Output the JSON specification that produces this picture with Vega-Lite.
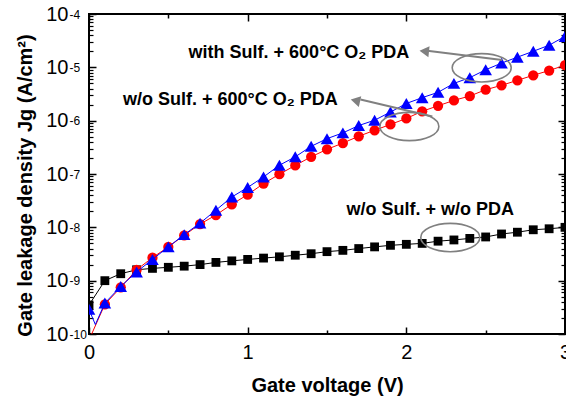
{
  "$schema": "https://vega.github.io/schema/vega-lite/v6.json",
  "width": 476,
  "height": 320,
  "autosize": {"type": "none"},
  "padding": {"left": 89, "top": 14, "right": 1, "bottom": 64},
  "config": {
    "view": {"stroke": "black", "strokeWidth": 2},
    "font": "Liberation Sans",
    "axis": {"grid": false, "labelColor": "black", "tickColor": "black", "titleColor": "black"}
  },
  "resolve": {"axis": {"x": "independent", "y": "independent"}},
  "datasets": {
    "curves": [
      {"s": "k", "v": 0, "j": 3.5e-10, "m": 1},
      {"s": "k", "v": 0.1, "j": 1.0e-9, "m": 1},
      {"s": "k", "v": 0.2, "j": 1.35e-9, "m": 1},
      {"s": "k", "v": 0.3, "j": 1.6e-9, "m": 1},
      {"s": "k", "v": 0.4, "j": 1.7e-9, "m": 1},
      {"s": "k", "v": 0.5, "j": 1.78e-9, "m": 1},
      {"s": "k", "v": 0.6, "j": 1.87e-9, "m": 1},
      {"s": "k", "v": 0.7, "j": 2.0e-9, "m": 1},
      {"s": "k", "v": 0.8, "j": 2.2e-9, "m": 1},
      {"s": "k", "v": 0.9, "j": 2.35e-9, "m": 1},
      {"s": "k", "v": 1.0, "j": 2.5e-9, "m": 1},
      {"s": "k", "v": 1.1, "j": 2.65e-9, "m": 1},
      {"s": "k", "v": 1.2, "j": 2.8e-9, "m": 1},
      {"s": "k", "v": 1.3, "j": 3.0e-9, "m": 1},
      {"s": "k", "v": 1.4, "j": 3.2e-9, "m": 1},
      {"s": "k", "v": 1.5, "j": 3.5e-9, "m": 1},
      {"s": "k", "v": 1.6, "j": 3.7e-9, "m": 1},
      {"s": "k", "v": 1.7, "j": 4.0e-9, "m": 1},
      {"s": "k", "v": 1.8, "j": 4.3e-9, "m": 1},
      {"s": "k", "v": 1.9, "j": 4.6e-9, "m": 1},
      {"s": "k", "v": 2.0, "j": 4.8e-9, "m": 1},
      {"s": "k", "v": 2.1, "j": 5.0e-9, "m": 1},
      {"s": "k", "v": 2.2, "j": 5.5e-9, "m": 1},
      {"s": "k", "v": 2.3, "j": 5.8e-9, "m": 1},
      {"s": "k", "v": 2.4, "j": 6.2e-9, "m": 1},
      {"s": "k", "v": 2.5, "j": 6.6e-9, "m": 1},
      {"s": "k", "v": 2.6, "j": 7.5e-9, "m": 1},
      {"s": "k", "v": 2.7, "j": 8.1e-9, "m": 1},
      {"s": "k", "v": 2.8, "j": 9.0e-9, "m": 1},
      {"s": "k", "v": 2.9, "j": 9.4e-9, "m": 1},
      {"s": "k", "v": 3.0, "j": 1.0e-8, "m": 1},
      {"s": "r", "v": 0, "j": 7.7e-11, "m": 0},
      {"s": "r", "v": 0.1, "j": 3.6e-10, "m": 1},
      {"s": "r", "v": 0.2, "j": 7.5e-10, "m": 1},
      {"s": "r", "v": 0.3, "j": 1.6e-9, "m": 1},
      {"s": "r", "v": 0.4, "j": 2.7e-9, "m": 1},
      {"s": "r", "v": 0.5, "j": 4.3e-9, "m": 1},
      {"s": "r", "v": 0.6, "j": 7.1e-9, "m": 1},
      {"s": "r", "v": 0.7, "j": 1.15e-8, "m": 1},
      {"s": "r", "v": 0.8, "j": 1.7e-8, "m": 1},
      {"s": "r", "v": 0.9, "j": 2.7e-8, "m": 1},
      {"s": "r", "v": 1.0, "j": 4.1e-8, "m": 1},
      {"s": "r", "v": 1.1, "j": 6.6e-8, "m": 1},
      {"s": "r", "v": 1.2, "j": 9.9e-8, "m": 1},
      {"s": "r", "v": 1.3, "j": 1.45e-7, "m": 1},
      {"s": "r", "v": 1.4, "j": 2.1e-7, "m": 1},
      {"s": "r", "v": 1.5, "j": 2.9e-7, "m": 1},
      {"s": "r", "v": 1.6, "j": 3.8e-7, "m": 1},
      {"s": "r", "v": 1.7, "j": 5.1e-7, "m": 1},
      {"s": "r", "v": 1.8, "j": 6.6e-7, "m": 1},
      {"s": "r", "v": 1.9, "j": 8.5e-7, "m": 1},
      {"s": "r", "v": 2.0, "j": 1.1e-6, "m": 1},
      {"s": "r", "v": 2.1, "j": 1.5e-6, "m": 1},
      {"s": "r", "v": 2.2, "j": 1.9e-6, "m": 1},
      {"s": "r", "v": 2.3, "j": 2.4e-6, "m": 1},
      {"s": "r", "v": 2.4, "j": 2.9e-6, "m": 1},
      {"s": "r", "v": 2.5, "j": 3.8e-6, "m": 1},
      {"s": "r", "v": 2.6, "j": 4.6e-6, "m": 1},
      {"s": "r", "v": 2.7, "j": 5.7e-6, "m": 1},
      {"s": "r", "v": 2.8, "j": 7.1e-6, "m": 1},
      {"s": "r", "v": 2.9, "j": 8.7e-6, "m": 1},
      {"s": "r", "v": 3.0, "j": 1.1e-5, "m": 1},
      {"s": "b", "v": 0, "j": 2.9e-10, "m": 1},
      {"s": "b", "v": 0.04, "j": 1.5e-10, "m": 0},
      {"s": "b", "v": 0.1, "j": 3.8e-10, "m": 1},
      {"s": "b", "v": 0.2, "j": 7.8e-10, "m": 1},
      {"s": "b", "v": 0.3, "j": 1.46e-9, "m": 1},
      {"s": "b", "v": 0.4, "j": 2.5e-9, "m": 1},
      {"s": "b", "v": 0.5, "j": 4.3e-9, "m": 1},
      {"s": "b", "v": 0.6, "j": 7.3e-9, "m": 1},
      {"s": "b", "v": 0.7, "j": 1.2e-8, "m": 1},
      {"s": "b", "v": 0.8, "j": 2.1e-8, "m": 1},
      {"s": "b", "v": 0.9, "j": 3.7e-8, "m": 1},
      {"s": "b", "v": 1.0, "j": 5.6e-8, "m": 1},
      {"s": "b", "v": 1.1, "j": 8.8e-8, "m": 1},
      {"s": "b", "v": 1.2, "j": 1.46e-7, "m": 1},
      {"s": "b", "v": 1.3, "j": 2.1e-7, "m": 1},
      {"s": "b", "v": 1.4, "j": 3.3e-7, "m": 1},
      {"s": "b", "v": 1.5, "j": 4.6e-7, "m": 1},
      {"s": "b", "v": 1.6, "j": 5.9e-7, "m": 1},
      {"s": "b", "v": 1.7, "j": 8.1e-7, "m": 1},
      {"s": "b", "v": 1.8, "j": 1.02e-6, "m": 1},
      {"s": "b", "v": 1.9, "j": 1.45e-6, "m": 1},
      {"s": "b", "v": 2.0, "j": 2.1e-6, "m": 1},
      {"s": "b", "v": 2.1, "j": 2.7e-6, "m": 1},
      {"s": "b", "v": 2.2, "j": 3.4e-6, "m": 1},
      {"s": "b", "v": 2.3, "j": 5.0e-6, "m": 1},
      {"s": "b", "v": 2.4, "j": 6.4e-6, "m": 1},
      {"s": "b", "v": 2.5, "j": 9.0e-6, "m": 1},
      {"s": "b", "v": 2.6, "j": 1.2e-5, "m": 1},
      {"s": "b", "v": 2.7, "j": 1.55e-5, "m": 1},
      {"s": "b", "v": 2.8, "j": 2.0e-5, "m": 1},
      {"s": "b", "v": 2.9, "j": 2.6e-5, "m": 1},
      {"s": "b", "v": 3.0, "j": 3.8e-5, "m": 1}
    ],
    "ellipses": [
      {"v": 2.475, "j": 9.8e-6},
      {"v": 2.019, "j": 7.77e-7},
      {"v": 2.277, "j": 6.44e-9}
    ],
    "arrows": [
      {"v": 2.132, "j": 2.04e-5, "v2": 2.604, "j2": 1.372e-5},
      {"v": 1.711, "j": 2.49e-6, "v2": 2.164, "j2": 1.197e-6}
    ],
    "labels": [
      {"v": 2.019, "j": 1.475e-5, "t": "with Sulf. + 600°C O₂ PDA"},
      {"v": 1.568, "j": 1.97e-6, "t": "w/o Sulf. + 600°C O₂ PDA"},
      {"v": 2.679, "j": 1.7e-8, "t": "w/o Sulf. + w/o PDA"}
    ]
  },
  "layer": [
    {
      "data": {"name": "curves"},
      "transform": [{"filter": "datum.s === 'k'"}],
      "mark": {"type": "line", "color": "black", "strokeWidth": 1, "clip": true},
      "encoding": {
        "x": {"field": "v", "type": "quantitative", "scale": {"domain": [0, 3], "nice": false, "zero": false},
          "axis": {"orient": "bottom", "values": [0, 1, 2, 3], "format": "d", "ticks": false, "domain": false, "labelFontSize": 20, "labelPadding": 8, "labelFlush": false, "labelOverlap": false,
            "title": "Gate voltage (V)", "titleFontSize": 20, "titleFontWeight": "bold", "titleBaseline": "middle", "titleY": 51}},
        "y": {"field": "j", "type": "quantitative", "scale": {"type": "log", "domain": [1e-10, 1e-4], "nice": false},
          "axis": {"orient": "left", "values": [1e-10, 1e-9, 1e-8, 1e-7, 1e-6, 1e-5, 1e-4], "labelExpr": "'10'", "ticks": false, "domain": false, "labelFontSize": 20, "labelPadding": 21, "labelBaseline": "middle", "labelFlush": false, "labelOverlap": false,
            "title": "Gate leakage density Jg (A/cm²)", "titleFontSize": 20, "titleFontWeight": "bold", "titleX": -64, "titleY": 171, "titleBaseline": "middle", "titleAlign": "center"}}
      }
    },
    {
      "data": {"name": "curves"},
      "transform": [{"filter": "datum.s === 'k' && datum.m === 1"}],
      "mark": {"type": "point", "shape": "square", "filled": true, "color": "black", "opacity": 1, "size": 78, "clip": true},
      "encoding": {
        "x": {"field": "v", "type": "quantitative", "scale": {"domain": [0, 3], "nice": false, "zero": false},
          "axis": {"orient": "bottom", "values": [0, 1, 2, 3], "labels": false, "domain": false, "ticks": true, "tickSize": -7, "tickWidth": 1.5, "title": null}},
        "y": {"field": "j", "type": "quantitative", "scale": {"type": "log", "domain": [1e-10, 1e-4], "nice": false},
          "axis": {"orient": "left", "values": [1e-10, 1e-9, 1e-8, 1e-7, 1e-6, 1e-5, 1e-4], "labelExpr": "'' + round(log(datum.value) / LN10)", "ticks": false, "domain": false, "labelFontSize": 12, "labelAlign": "left", "labelPadding": 20, "labelBaseline": "middle", "labelDy": -9, "labelFlush": false, "labelOverlap": false, "title": null}}
      }
    },
    {
      "data": {"name": "curves"},
      "transform": [{"filter": "datum.s === 'r'"}],
      "mark": {"type": "line", "color": "#ff0000", "strokeWidth": 1, "clip": true},
      "encoding": {
        "x": {"field": "v", "type": "quantitative", "scale": {"domain": [0, 3], "nice": false, "zero": false},
          "axis": {"orient": "bottom", "values": [0.5, 1.5, 2.5], "labels": false, "domain": false, "ticks": true, "tickSize": -4, "tickWidth": 1.5, "title": null}},
        "y": {"field": "j", "type": "quantitative", "scale": {"type": "log", "domain": [1e-10, 1e-4], "nice": false},
          "axis": {"orient": "left", "values": [1e-10, 1e-9, 1e-8, 1e-7, 1e-6, 1e-5, 1e-4], "labels": false, "domain": false, "ticks": true, "tickSize": -7, "tickWidth": 1.5, "title": null}}
      }
    },
    {
      "data": {"name": "curves"},
      "transform": [{"filter": "datum.s === 'r' && datum.m === 1"}],
      "mark": {"type": "point", "shape": "circle", "filled": true, "color": "#ff0000", "opacity": 1, "size": 105, "clip": true},
      "encoding": {
        "x": {"field": "v", "type": "quantitative", "scale": {"domain": [0, 3], "nice": false, "zero": false},
          "axis": {"orient": "top", "values": [0, 1, 2, 3], "labels": false, "domain": false, "ticks": true, "tickSize": -7, "tickWidth": 1.5, "title": null}},
        "y": {"field": "j", "type": "quantitative", "scale": {"type": "log", "domain": [1e-10, 1e-4], "nice": false},
          "axis": {"orient": "left", "values": [2e-10, 3e-10, 4e-10, 5e-10, 6e-10, 7e-10, 8e-10, 9e-10, 2e-9, 3e-9, 4e-9, 5e-9, 6e-9, 7e-9, 8e-9, 9e-9, 2e-8, 3e-8, 4e-8, 5e-8, 6e-8, 7e-8, 8e-8, 9e-8, 2e-7, 3e-7, 4e-7, 5e-7, 6e-7, 7e-7, 8e-7, 9e-7, 2e-6, 3e-6, 4e-6, 5e-6, 6e-6, 7e-6, 8e-6, 9e-6, 2e-5, 3e-5, 4e-5, 5e-5, 6e-5, 7e-5, 8e-5, 9e-5], "labels": false, "domain": false, "ticks": true, "tickSize": -4, "tickWidth": 1.2, "title": null}}
      }
    },
    {
      "data": {"name": "curves"},
      "transform": [{"filter": "datum.s === 'b'"}],
      "mark": {"type": "line", "color": "#0000ff", "strokeWidth": 1, "clip": true},
      "encoding": {
        "x": {"field": "v", "type": "quantitative", "scale": {"domain": [0, 3], "nice": false, "zero": false},
          "axis": {"orient": "top", "values": [0.5, 1.5, 2.5], "labels": false, "domain": false, "ticks": true, "tickSize": -4, "tickWidth": 1.5, "title": null}},
        "y": {"field": "j", "type": "quantitative", "scale": {"type": "log", "domain": [1e-10, 1e-4], "nice": false},
          "axis": {"orient": "right", "values": [1e-10, 1e-9, 1e-8, 1e-7, 1e-6, 1e-5, 1e-4], "labels": false, "domain": false, "ticks": true, "tickSize": -7, "tickWidth": 1.5, "title": null}}
      }
    },
    {
      "data": {"name": "curves"},
      "transform": [{"filter": "datum.s === 'b' && datum.m === 1"}],
      "mark": {"type": "point", "shape": "triangle-up", "filled": true, "color": "#0000ff", "opacity": 1, "size": 160, "clip": true},
      "encoding": {
        "x": {"field": "v", "type": "quantitative", "scale": {"domain": [0, 3], "nice": false, "zero": false}, "axis": null},
        "y": {"field": "j", "type": "quantitative", "scale": {"type": "log", "domain": [1e-10, 1e-4], "nice": false},
          "axis": {"orient": "right", "values": [2e-10, 3e-10, 4e-10, 5e-10, 6e-10, 7e-10, 8e-10, 9e-10, 2e-9, 3e-9, 4e-9, 5e-9, 6e-9, 7e-9, 8e-9, 9e-9, 2e-8, 3e-8, 4e-8, 5e-8, 6e-8, 7e-8, 8e-8, 9e-8, 2e-7, 3e-7, 4e-7, 5e-7, 6e-7, 7e-7, 8e-7, 9e-7, 2e-6, 3e-6, 4e-6, 5e-6, 6e-6, 7e-6, 8e-6, 9e-6, 2e-5, 3e-5, 4e-5, 5e-5, 6e-5, 7e-5, 8e-5, 9e-5], "labels": false, "domain": false, "ticks": true, "tickSize": -4, "tickWidth": 1.2, "title": null}}
      }
    },
    {
      "data": {"name": "ellipses"},
      "mark": {"type": "point", "shape": "M-1,0A1,0.48,0,1,1,1,0A1,0.48,0,1,1,-1,0Z", "filled": false, "stroke": "#808080", "strokeWidth": 1.6, "opacity": 1, "size": 3481},
      "encoding": {
        "x": {"field": "v", "type": "quantitative", "scale": {"domain": [0, 3], "nice": false, "zero": false}, "axis": null},
        "y": {"field": "j", "type": "quantitative", "scale": {"type": "log", "domain": [1e-10, 1e-4], "nice": false}, "axis": null}
      }
    },
    {
      "data": {"name": "arrows"},
      "mark": {"type": "rule", "color": "#808080", "strokeWidth": 2},
      "encoding": {
        "x": {"field": "v", "type": "quantitative", "scale": {"domain": [0, 3], "nice": false, "zero": false}, "axis": null},
        "y": {"field": "j", "type": "quantitative", "scale": {"type": "log", "domain": [1e-10, 1e-4], "nice": false}, "axis": null},
        "x2": {"field": "v2"},
        "y2": {"field": "j2"}
      }
    },
    {
      "data": {"values": [{"v": 2.113, "j": 2.0e-5}]},
      "mark": {"type": "point", "shape": "triangle-left", "filled": true, "color": "#808080", "opacity": 1, "size": 120, "angle": 6},
      "encoding": {
        "x": {"field": "v", "type": "quantitative", "scale": {"domain": [0, 3], "nice": false, "zero": false}, "axis": null},
        "y": {"field": "j", "type": "quantitative", "scale": {"type": "log", "domain": [1e-10, 1e-4], "nice": false}, "axis": null}
      }
    },
    {
      "data": {"values": [{"v": 1.679, "j": 2.39e-6}]},
      "mark": {"type": "point", "shape": "triangle-left", "filled": true, "color": "#808080", "opacity": 1, "size": 120, "angle": 13},
      "encoding": {
        "x": {"field": "v", "type": "quantitative", "scale": {"domain": [0, 3], "nice": false, "zero": false}, "axis": null},
        "y": {"field": "j", "type": "quantitative", "scale": {"type": "log", "domain": [1e-10, 1e-4], "nice": false}, "axis": null}
      }
    },
    {
      "data": {"name": "labels"},
      "mark": {"type": "text", "align": "right", "baseline": "alphabetic", "fontSize": 18, "fontWeight": "bold", "color": "black", "font": "Liberation Sans"},
      "encoding": {
        "x": {"field": "v", "type": "quantitative", "scale": {"domain": [0, 3], "nice": false, "zero": false}, "axis": null},
        "y": {"field": "j", "type": "quantitative", "scale": {"type": "log", "domain": [1e-10, 1e-4], "nice": false}, "axis": null},
        "text": {"field": "t"}
      }
    }
  ]
}
